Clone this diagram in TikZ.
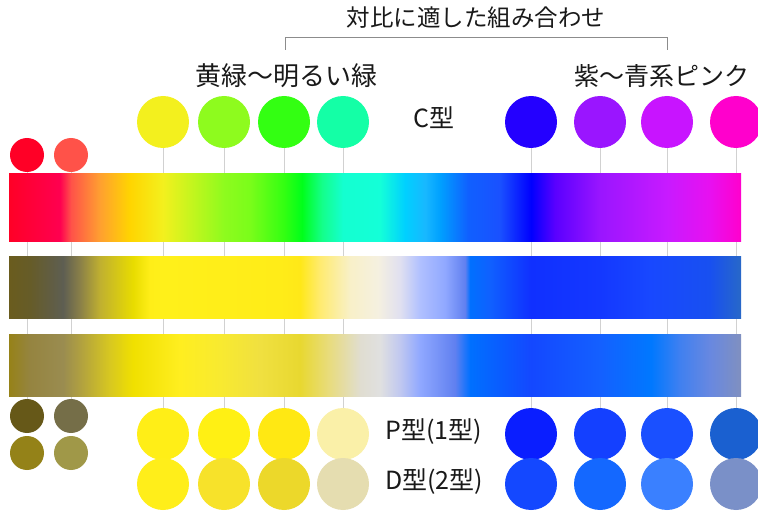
\documentclass[tikz,border=0pt]{standalone}
\usepackage{fontspec}
\setmainfont{Noto Sans CJK JP}
\usetikzlibrary{backgrounds}
% bar 1 colours
\definecolor{a01}{HTML}{FF0026}\definecolor{a02}{HTML}{FF0030}\definecolor{a03}{HTML}{FF0050}
\definecolor{a04}{HTML}{FF5249}\definecolor{a05}{HTML}{FFA030}\definecolor{a06}{HTML}{FFD500}
\definecolor{a07}{HTML}{F3F01E}\definecolor{a08}{HTML}{8EFB1E}\definecolor{a09}{HTML}{7AFD1A}
\definecolor{a10}{HTML}{33FF12}\definecolor{a11}{HTML}{00FF1A}\definecolor{a12}{HTML}{14FF8A}
\definecolor{a13}{HTML}{14FFD0}\definecolor{a14}{HTML}{14FFD8}\definecolor{a15}{HTML}{00D0FF}
\definecolor{a16}{HTML}{18B8FF}\definecolor{a17}{HTML}{00A0FF}\definecolor{a18}{HTML}{1060FF}
\definecolor{a19}{HTML}{1A50FF}\definecolor{a20}{HTML}{0000FF}\definecolor{a21}{HTML}{5A00FF}
\definecolor{a22}{HTML}{9A15FF}\definecolor{a23}{HTML}{C81AFF}\definecolor{a24}{HTML}{E810F0}
\definecolor{a25}{HTML}{FF00CC}
% bar 2 colours
\definecolor{b01}{HTML}{6A5C1E}\definecolor{b02}{HTML}{665C28}\definecolor{b03}{HTML}{5E5E52}
\definecolor{b04}{HTML}{8A8048}\definecolor{b05}{HTML}{C0B030}\definecolor{b06}{HTML}{E8DC00}
\definecolor{b07}{HTML}{FFEE18}\definecolor{b08}{HTML}{FFF01A}\definecolor{b09}{HTML}{FFEC18}
\definecolor{b10}{HTML}{FFE818}\definecolor{b11}{HTML}{FFEB70}\definecolor{b12}{HTML}{F8F0C8}
\definecolor{b13}{HTML}{F5F0E0}\definecolor{b14}{HTML}{E0E0F0}\definecolor{b15}{HTML}{B0C0FF}
\definecolor{b16}{HTML}{90A8FF}\definecolor{b17}{HTML}{6080F0}\definecolor{b18}{HTML}{0070FF}
\definecolor{b19}{HTML}{1060FF}\definecolor{b20}{HTML}{1030FF}\definecolor{b21}{HTML}{1438FF}
\definecolor{b22}{HTML}{1848FF}\definecolor{b23}{HTML}{1850F0}\definecolor{b24}{HTML}{2868C8}
% bar 3 colours
\definecolor{c01}{HTML}{968218}\definecolor{c02}{HTML}{958440}\definecolor{c03}{HTML}{9A8C50}
\definecolor{c04}{HTML}{B0A040}\definecolor{c05}{HTML}{D8C820}\definecolor{c06}{HTML}{F0E000}
\definecolor{c07}{HTML}{FFEE20}\definecolor{c08}{HTML}{F8EA30}\definecolor{c09}{HTML}{F0E040}
\definecolor{c10}{HTML}{E8D830}\definecolor{c11}{HTML}{E8DC80}\definecolor{c12}{HTML}{E0DDD0}
\definecolor{c13}{HTML}{E0E0E0}\definecolor{c14}{HTML}{C0C8F0}\definecolor{c15}{HTML}{90A8FF}
\definecolor{c16}{HTML}{6080F0}\definecolor{c17}{HTML}{0070FF}\definecolor{c18}{HTML}{1448FF}
\definecolor{c19}{HTML}{1460FF}\definecolor{c20}{HTML}{0078FF}\definecolor{c21}{HTML}{4080F0}
\definecolor{c22}{HTML}{6888E0}\definecolor{c23}{HTML}{8090C0}
% circle colours
\definecolor{ct1}{HTML}{F3F01E}\definecolor{ct2}{HTML}{8EFB1E}\definecolor{ct3}{HTML}{33FF12}
\definecolor{ct4}{HTML}{14FFA6}\definecolor{ct5}{HTML}{2400FF}\definecolor{ct6}{HTML}{9A15FF}
\definecolor{ct7}{HTML}{C814FF}\definecolor{ct8}{HTML}{FF00CC}
\definecolor{cs1}{HTML}{FF0026}\definecolor{cs2}{HTML}{FF5249}
\definecolor{cp1}{HTML}{FFEE17}\definecolor{cp2}{HTML}{FFF014}\definecolor{cp3}{HTML}{FFE813}
\definecolor{cp4}{HTML}{FAF0A8}\definecolor{cp5}{HTML}{0A1EFF}\definecolor{cp6}{HTML}{1440FF}
\definecolor{cp7}{HTML}{1A50FF}\definecolor{cp8}{HTML}{1A60D0}
\definecolor{cd1}{HTML}{FFEE1A}\definecolor{cd2}{HTML}{F7E22A}\definecolor{cd3}{HTML}{ECD82A}
\definecolor{cd4}{HTML}{E5DDB0}\definecolor{cd5}{HTML}{1448FF}\definecolor{cd6}{HTML}{1468FF}
\definecolor{cd7}{HTML}{3A80FF}\definecolor{cd8}{HTML}{7A90C8}
\definecolor{cq1}{HTML}{665818}\definecolor{cq2}{HTML}{756E48}
\definecolor{cr1}{HTML}{948218}\definecolor{cr2}{HTML}{A09848}
\pgfdeclarehorizontalshading{barC}{100bp}{color(0bp)=(a01); color(25bp)=(a01); color(25.75bp)=(a02);
 color(28.48bp)=(a03); color(29.24bp)=(a04); color(31.22bp)=(a05); color(33.27bp)=(a06);
 color(35.52bp)=(a07); color(39.69bp)=(a08); color(41.46bp)=(a09); color(43.78bp)=(a10);
 color(45.01bp)=(a11); color(46.38bp)=(a12); color(47.81bp)=(a13); color(50.34bp)=(a14);
 color(52.05bp)=(a15); color(53.42bp)=(a16); color(54.44bp)=(a17); color(56.35bp)=(a18);
 color(58.54bp)=(a19); color(60.66bp)=(a20); color(62.30bp)=(a21); color(65.37bp)=(a22);
 color(69.95bp)=(a23); color(72.88bp)=(a24); color(75bp)=(a25); color(100bp)=(a25)}
\pgfdeclarehorizontalshading{barP}{100bp}{color(0bp)=(b01); color(25bp)=(b01); color(26.43bp)=(b02);
 color(28.69bp)=(b03); color(29.85bp)=(b04); color(31.22bp)=(b05); color(33.47bp)=(b06);
 color(34.63bp)=(b07); color(35.52bp)=(b08); color(43.51bp)=(b09); color(44.88bp)=(b10);
 color(46.24bp)=(b11); color(48.29bp)=(b12); color(50.20bp)=(b13); color(51.71bp)=(b14);
 color(53.07bp)=(b15); color(54.78bp)=(b16); color(56.15bp)=(b17); color(56.49bp)=(b18);
 color(57.86bp)=(b19); color(60.66bp)=(b20); color(65.37bp)=(b21); color(68.78bp)=(b22);
 color(72.88bp)=(b23); color(75bp)=(b24); color(100bp)=(b24)}
\pgfdeclarehorizontalshading{barD}{100bp}{color(0bp)=(c01); color(25bp)=(c01); color(26.43bp)=(c02);
 color(28.69bp)=(c03); color(29.85bp)=(c04); color(31.90bp)=(c05); color(33.47bp)=(c06);
 color(36.68bp)=(c07); color(39.41bp)=(c08); color(42.14bp)=(c09); color(44.88bp)=(c10);
 color(46.93bp)=(c11); color(48.98bp)=(c12); color(50.34bp)=(c13); color(51.71bp)=(c14);
 color(53.07bp)=(c15); color(55.46bp)=(c16); color(56.49bp)=(c17); color(60.66bp)=(c18);
 color(65.37bp)=(c19); color(68.85bp)=(c20); color(70.83bp)=(c21); color(72.88bp)=(c22);
 color(75bp)=(c23); color(100bp)=(c23)}
\begin{document}
\begin{tikzpicture}[x=1pt,y=-1pt,
  big/.style={circle,inner sep=0pt,minimum size=52pt,fill=#1},
  small/.style={circle,inner sep=0pt,minimum size=34pt,fill=#1},
  vline/.style={draw=black!18,line width=1pt},
  lbl/.style={inner sep=0pt,text=black!90,font=\fontsize{#1}{#1}\selectfont},
  bracket/.style={draw=black!45,line width=0.8pt}]
\useasboundingbox (0,0) rectangle (758,513);
% top circles
\node[big=ct1] (t1) at (163,122) {};
\node[big=ct2] (t2) at (224,122) {};
\node[big=ct3] (t3) at (284,122) {};
\node[big=ct4] (t4) at (343,122) {};
\node[big=ct5] (t5) at (531,122) {};
\node[big=ct6] (t6) at (600,122) {};
\node[big=ct7] (t7) at (667,122) {};
\node[big=ct8] (t8) at (736,122) {};
\node[small=cs1] (s1) at (27,155) {};
\node[small=cs2] (s2) at (71,155) {};
% bars
\shade[shading=barC] (9,174) rectangle (741,242);
\shade[shading=barP] (9,257) rectangle (741,318);
\shade[shading=barD] (9,334) rectangle (741,396);
% bottom P row
\foreach \i/\x in {1/163,2/224,3/284,4/343,5/531,6/600,7/667,8/736}
  {\node[big=cp\i] (p\i) at (\x,434) {};}
% bottom D row
\foreach \i/\x in {1/163,2/224,3/284,4/343,5/531,6/600,7/667,8/736}
  {\node[big=cd\i] (d\i) at (\x,484) {};}
% small bottom-left
\node[small=cq1] (q1) at (27,416) {};
\node[small=cq2] (q2) at (71,416) {};
\node[small=cr1] (r1) at (27,453) {};
\node[small=cr2] (r2) at (71,453) {};
% vertical guide lines behind
\begin{pgfonlayer}{background}
\foreach \i in {1,...,8} {\draw[vline] (t\i.center) -- (p\i.center);}
\draw[vline] (s1.center) -- (q1.center);
\draw[vline] (s2.center) -- (q2.center);
\end{pgfonlayer}
% labels
\node[lbl=23.5] (title) at (476,18) {対比に適した組み合わせ};
\coordinate (bl) at (285,50);
\coordinate (br) at (667,50);
\draw[bracket] (bl) -- (bl |- 0,37) -- (br |- 0,37) -- (br);
\node[lbl=26] (yg) at (286,76) {黄緑～明るい緑};
\node[lbl=25] (vp) at (662,76) {紫～青系ピンク};
\node[lbl=25] (ct) at (434,118) {C型};
\node[lbl=25] (pt) at (434,432) {P型(1型)};
\node[lbl=25] (dt) at (434,482) {D型(2型)};
\end{tikzpicture}
\end{document}
